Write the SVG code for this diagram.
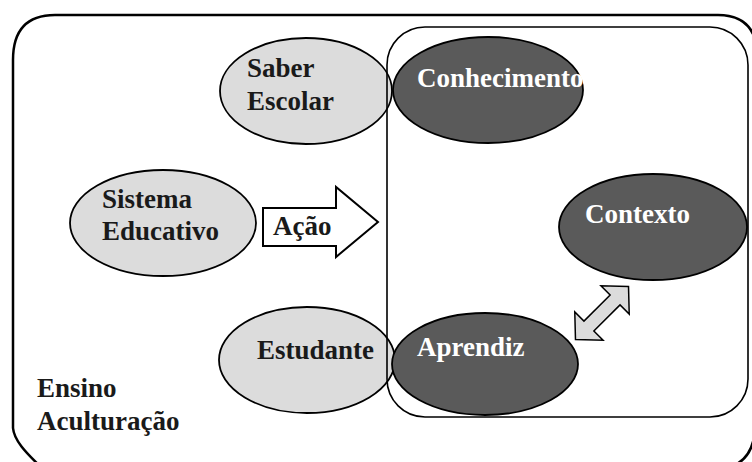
<svg xmlns="http://www.w3.org/2000/svg" width="752" height="462" viewBox="0 0 752 462">
<style>
.t{font-family:'Liberation Serif','DejaVu Serif',serif;font-weight:bold;font-size:27px}
.dk{fill:#1a1a1a}
.wt{fill:#ffffff}
.light{fill:#dcdcdc;stroke:#000;stroke-width:1.8}
.dark{fill:#5a5a5a;stroke:#000;stroke-width:1.8}
</style>
<rect width="752" height="462" fill="#ffffff"/>
<g id="outer">
<path d="M42,468 C25,452 14,440 13,428 L13,60 Q13,15 55,15 L718,15 Q758,15 758,60 L755,425 Q755,470 710,470 Z" fill="none" stroke="#000" stroke-width="2.5"/>
<text class="t dk" x="37" y="397">Ensino</text>
<text class="t dk" x="37" y="430">Aculturação</text>
</g>
<g id="saber">
<ellipse class="light" cx="306" cy="91" rx="86" ry="53"/>
<text class="t dk" x="247" y="77">Saber</text>
<text class="t dk" x="247" y="110">Escolar</text>
</g>
<g id="sistema">
<ellipse class="light" cx="163" cy="223" rx="93" ry="53"/>
<text class="t dk" x="102" y="208">Sistema</text>
<text class="t dk" x="102" y="240">Educativo</text>
</g>
<g id="estudante">
<ellipse class="light" cx="307" cy="360" rx="88" ry="53"/>
<text class="t dk" x="257" y="359">Estudante</text>
</g>
<g id="inner">
<rect x="387" y="27" width="361" height="390" rx="38" ry="38" fill="none" stroke="#000" stroke-width="1.6"/>
</g>
<g id="conhecimento">
<ellipse class="dark" cx="488" cy="90" rx="95" ry="53"/>
<text class="t wt" x="417" y="87">Conhecimento</text>
</g>
<g id="contexto">
<ellipse class="dark" cx="653" cy="227" rx="94" ry="53"/>
<text class="t wt" x="585" y="223">Contexto</text>
</g>
<g id="aprendiz">
<ellipse class="dark" cx="485" cy="364" rx="93" ry="51"/>
<text class="t wt" x="417" y="356">Aprendiz</text>
</g>
<g id="connectors">
<g id="acao">
<path d="M263,208 L336,208 L336,187 L378,222 L336,257 L336,246 L263,246 Z" fill="#ffffff" stroke="#000" stroke-width="2"/>
<text class="t dk" x="273" y="235">Ação</text>
</g>
<polygon points="37.5,0 18.5,-20 18.5,-7 -18.5,-7 -18.5,-20 -37.5,0 -18.5,20 -18.5,7 18.5,7 18.5,20" transform="translate(602,313) rotate(-45)" fill="#dcdcdc" stroke="#000" stroke-width="1.5"/>
</g>
</svg>
